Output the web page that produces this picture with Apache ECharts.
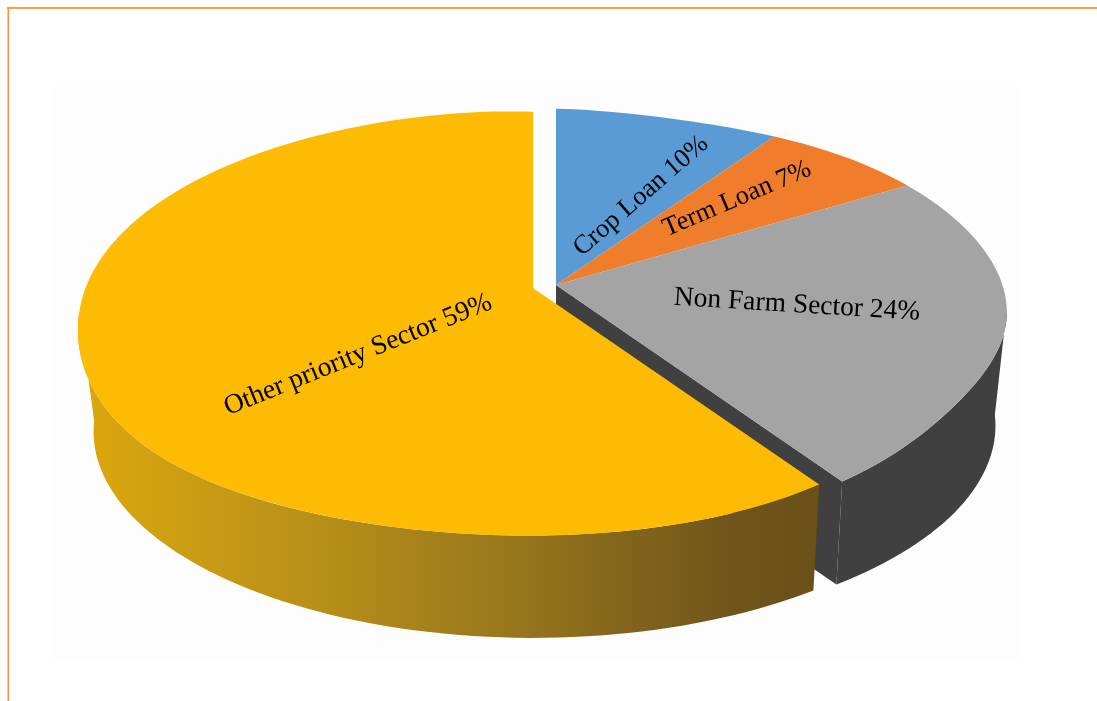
<!DOCTYPE html>
<html>
<head>
<meta charset="utf-8">
<title>Priority sector lending</title>
<script src="https://cdn.jsdelivr.net/npm/echarts@6/dist/echarts.min.js"></script>
<style>
html,body{margin:0;padding:0;background:#fff}
#chart{width:1097px;height:701px}
</style>
</head>
<body>
<div id="chart"></div>
<script>
// Share of lending per sector, in percent, clockwise from twelve o'clock.
const categories = ['Crop Loan', 'Term Loan', 'Non Farm Sector', 'Other priority Sector'];
const shares = [10, 7, 24, 59];
const topColors = ['#5b9bd5', '#f07d2b', '#a4a4a4', '#fdbb04'];
const wallColors = ['#2f5f8f', '#9a4f1a', '#404040', null];

// Disc projection: a tilted circle seen in perspective, plus a lower face for the wall.
const disc = { radius: 447, minor: 207, persp: 0.163, lowerScale: 0.97, skewDeg: 3 };
const centers = { pulled: [556, 285], main: [533, 288] };
const depths = { pulled: 107, main: 110 };
const pulledOut = [true, true, true, false];

// Gentle lens correction of the upper rim: centre angle, strength, sharpness.
const rimLens = [
  { at: 20, amount: -0.025, power: 16 },
  { at: 125, amount: -0.03, power: 16 },
  { at: 225, amount: 0.032, power: 10 }
];

// Label placement, in pixels, with rotation in degrees.
const labelAt = [
  { x: 641, y: 196, rot: 41, size: 26.5 },
  { x: 737, y: 199, rot: 23, size: 26.5 },
  { x: 797, y: 305, rot: -3.5, size: 27.5 },
  { x: 358, y: 355, rot: 22, size: 27.5 }
];

// Shaded wall of the large slice, dark on the right and lighter towards the left.
const mainWallFill = {
  type: 'linear', global: true, x: 820, y: 0, x2: 85, y2: 0,
  colorStops: [
    { offset: 0, color: '#6a5118' },
    { offset: 0.12, color: '#6f551a' },
    { offset: 0.45, color: '#9c7a1c' },
    { offset: 0.75, color: '#bf9518' },
    { offset: 1, color: '#dba70c' }
  ]
};

// The wall faces the viewer between the two widest points of the rim.
const nearFrom = Math.acos(-disc.persp) * 180 / Math.PI;
const nearTo = 360 - nearFrom;

function warp(thetaDeg) {
  return (thetaDeg - disc.skewDeg * Math.sin(thetaDeg * Math.PI / 180)) * Math.PI / 180;
}

function lensAt(t) {
  let f = 1;
  for (const l of rimLens) {
    f += l.amount * Math.pow(Math.max(0, Math.cos(t - l.at * Math.PI / 180)), l.power);
  }
  return f;
}

function rim(center, depth, thetaDeg, lower) {
  const t = warp(thetaDeg);
  const s = Math.sin(t), c = Math.cos(t);
  const w = 1 + disc.persp * c;
  const f = lower ? disc.lowerScale : lensAt(t);
  return [
    center[0] + f * disc.radius * s / w,
    center[1] - f * disc.minor * c / w + (lower ? depth : 0)
  ];
}

function sweep(from, to) {
  const n = Math.max(2, Math.ceil((to - from) / 1.5));
  const out = [];
  for (let i = 0; i <= n; i++) out.push(from + (to - from) * i / n);
  return out;
}

const total = shares.reduce((a, b) => a + b, 0);

function renderSlice(params, api) {
  const i = params.dataIndex;
  const before = shares.slice(0, i).reduce((a, b) => a + b, 0);
  const from = before / total * 360;
  const to = from + api.value(0) / total * 360;
  const center = pulledOut[i] ? centers.pulled : centers.main;
  const depth = pulledOut[i] ? depths.pulled : depths.main;
  const children = [];

  // Outer wall: upper rim forward, lower rim back, over the part facing the viewer.
  const wallFrom = Math.max(from, nearFrom);
  const wallTo = Math.min(to, nearTo);
  if (wallTo > wallFrom) {
    const span = sweep(wallFrom, wallTo);
    children.push({
      type: 'polygon',
      shape: {
        points: span.map(a => rim(center, depth, a, false))
          .concat(span.slice().reverse().map(a => rim(center, depth, a, true)))
      },
      style: { fill: pulledOut[i] ? wallColors[i] : mainWallFill }
    });
  }

  // Cut face of a pulled-out slice, visible when its trailing edge points at the viewer.
  if (pulledOut[i] && Math.cos(to * Math.PI / 180) < 0) {
    children.push({
      type: 'polygon',
      shape: {
        points: [center, rim(center, depth, to, false), rim(center, depth, to, true),
                 [center[0], center[1] + depth]]
      },
      style: { fill: wallColors[i] }
    });
  }

  // Top face.
  children.push({
    type: 'polygon',
    shape: { points: [center].concat(sweep(from, to).map(a => rim(center, depth, a, false))) },
    style: { fill: topColors[i] }
  });

  // Label.
  const at = labelAt[i];
  children.push({
    type: 'text',
    x: at.x, y: at.y,
    rotation: at.rot * Math.PI / 180,
    style: {
      text: categories[i] + ' ' + api.value(0) + '%',
      fill: '#000',
      font: at.size + 'px "Liberation Serif", serif',
      align: 'center',
      verticalAlign: 'middle'
    }
  });
  return { type: 'group', children };
}

const chart = echarts.init(document.getElementById('chart'), null, { renderer: 'canvas' });
chart.setOption({
  animation: false,
  backgroundColor: '#ffffff',
  graphic: [
    { type: 'rect', z: -1, silent: true, shape: { x: 53, y: 87, width: 967, height: 572 }, style: { fill: '#fdfdfd' } },
    { type: 'rect', z: 0, silent: true, shape: { x: 7, y: 7, width: 1090, height: 2 }, style: { fill: '#f2a04f' } },
    { type: 'rect', z: 0, silent: true, shape: { x: 7.5, y: 7, width: 1.5, height: 694 }, style: { fill: '#f5923e' } }
  ],
  series: [{
    type: 'custom',
    coordinateSystem: 'none',
    silent: true,
    data: shares.map(v => [v]),
    renderItem: renderSlice
  }]
});
</script>
</body>
</html>
